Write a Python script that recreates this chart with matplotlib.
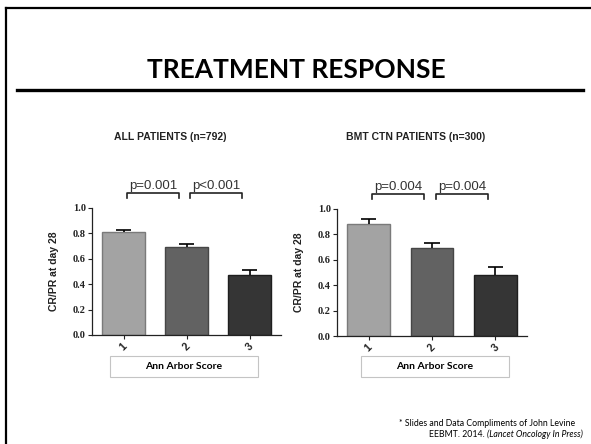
import matplotlib
matplotlib.use("Agg")
import matplotlib.pyplot as plt
from matplotlib.patches import Rectangle
from matplotlib.lines import Line2D

# ---- data ----
categories = ["1", "2", "3"]
all_values = [0.81, 0.69, 0.47]
all_err = [0.02, 0.03, 0.04]
bmt_values = [0.88, 0.69, 0.48]
bmt_err = [0.04, 0.04, 0.06]
all_pvalues = ["p=0.001", "p<0.001"]
bmt_pvalues = ["p=0.004", "p=0.004"]
bar_colors = ["#a3a3a3", "#626262", "#353535"]
edge_colors = ["#7a7a7a", "#464646", "#1e1e1e"]

W, H = 591, 444
fig = plt.figure(figsize=(W / 100, H / 100), dpi=100)


def fx(px):
    return px / W


def fy(py):
    return 1 - py / H


# slide frame and title rule
fig.add_artist(Line2D([fx(6), fx(6)], [fy(8), 0], color="black", lw=1.6))
fig.add_artist(Line2D([fx(6), 1], [fy(8), fy(8)], color="black", lw=1.6))
fig.add_artist(Line2D([fx(17), fx(583)], [fy(90), fy(90)], color="black", lw=2.4))
fig.text(fx(296), fy(70), "TREATMENT RESPONSE", ha="center", va="center",
         fontsize=19, fontweight="bold", family="Lato")


def panel(x0, x1, y1px, y0px, title, values, errs, pvals):
    ax = fig.add_axes([fx(x0), fy(y0px), fx(x1 - x0), (y0px - y1px) / H])
    xs = list(range(len(categories)))
    ax.bar(xs, values, width=0.67, color=bar_colors, edgecolor=edge_colors,
           linewidth=1.0, zorder=2)
    # upper error whiskers with caps
    tops = [v + e for v, e in zip(values, errs)]
    ax.vlines(xs, values, tops, color="black", lw=1.2, zorder=3)
    ax.hlines(tops, [x - 0.12 for x in xs], [x + 0.12 for x in xs],
              color="black", lw=1.2, zorder=3)
    ax.set_xlim(-0.5, 2.5)
    ax.set_ylim(0, 1.0)
    ax.set_yticks([0.0, 0.2, 0.4, 0.6, 0.8, 1.0])
    ax.set_yticklabels(["0.0", "0.2", "0.4", "0.6", "0.8", "1.0"],
                       fontsize=7.5, fontweight="bold", family="Liberation Serif",
                       color="#222222")
    ax.set_xticks(xs)
    ax.set_xticklabels(categories, rotation=45, fontsize=7.5, fontweight="bold",
                       family="Liberation Sans", color="#222222")
    ax.tick_params(axis="both", length=3, width=0.8, pad=1.5, color="#222222")
    for s in ("top", "right"):
        ax.spines[s].set_visible(False)
    for s in ("left", "bottom"):
        ax.spines[s].set_linewidth(0.9)
        ax.spines[s].set_color("#222222")
    ax.set_ylabel("CR/PR at day 28", fontsize=7.5, fontweight="bold",
                  family="Liberation Sans", color="#222222")
    ax.yaxis.set_label_coords(-33 / (x1 - x0), 0.5)
    # significance brackets between neighbouring groups
    for i, p in enumerate(pvals):
        a, b = i + 0.06, i + 0.88
        ax.plot([a, a, b, b], [1.075, 1.115, 1.115, 1.075], color="#222222",
                lw=1.2, clip_on=False)
        ax.text((a + b) / 2, 1.125, p, ha="center", va="bottom", fontsize=9.5,
                family="Liberation Sans", color="#333333", clip_on=False)
    # panel heading
    cx = (x0 - 33 + x1) / 2
    fig.text(fx(cx), fy(137), title, ha="center", va="center", fontsize=7.5,
             fontweight="bold", family="Liberation Sans", color="#222222")
    return ax


panel(92, 281, 208, 335, "ALL PATIENTS (n=792)", all_values, all_err, all_pvalues)
panel(337, 527, 209, 336, "BMT CTN PATIENTS (n=300)", bmt_values, bmt_err, bmt_pvalues)

# axis caption boxes
for bx0, bx1 in ((110, 258), (361, 509)):
    fig.add_artist(Rectangle((fx(bx0), fy(377)), fx(bx1 - bx0), 21 / H,
                             fill=False, edgecolor="#c4c4c4", lw=0.8))
    fig.text(fx((bx0 + bx1) / 2), fy(366.5), "Ann Arbor Score", ha="center",
             va="center", fontsize=7.5, fontweight="bold", family="Lato")

# footnote
fig.text(fx(487), fy(423), "* Slides and Data Compliments of John Levine",
         ha="center", va="center", fontsize=6.3, family="Lato")
fig.text(fx(487), fy(434), "EEBMT. 2014. ", ha="right", va="center",
         fontsize=6.3, family="Lato")
fig.text(fx(487), fy(434), "(Lancet Oncology In Press)", ha="left",
         va="center", fontsize=6.3, family="Lato", style="italic")

fig.savefig("out.png", dpi=100, facecolor="white")
